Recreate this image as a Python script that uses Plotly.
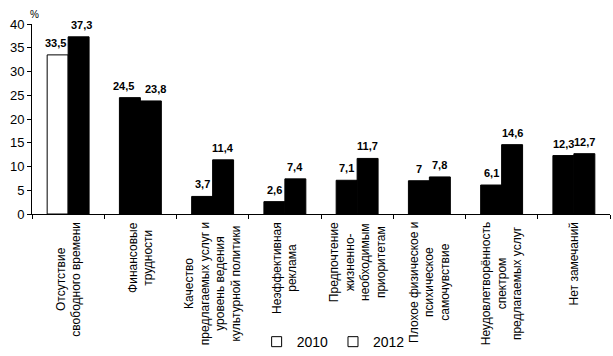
import plotly.graph_objects as go

categories = [
    "Отсутствие<br>свободного времени",
    "Финансовые<br>трудности",
    "Качество<br>предлагаемых услуг и<br>уровень ведения<br>культурной политики",
    "Неэффективная<br>реклама",
    "Предпочтение<br>жизненно-<br>необходимым<br>приоритетам",
    "Плохое физическое и<br>психическое<br>самочувствие",
    "Неудовлетворённость<br>спектром<br>предлагаемых услуг",
    "Нет замечаний",
]
values_2010 = [33.5, 24.5, 3.7, 2.6, 7.1, 7.0, 6.1, 12.3]
values_2012 = [37.3, 23.8, 11.4, 7.4, 11.7, 7.8, 14.6, 12.7]
series_names = ["2010", "2012"]
y_ticks = [0, 5, 10, 15, 20, 25, 30, 35, 40]

FONT = "Liberation Sans, Arial, sans-serif"

W, H = 613, 356
ML, MR, MT, MB = 32, 3, 24, 142
BARGAP = 0.42
# small horizontal label nudges (px) to keep neighbouring value labels apart
NUDGE_2010 = [-2, -6, 0, 0, 0, 0, 0, 0]
NUDGE_2012 = [3, 5, 0, 0, 0, 0, 0, 0]


def fmt(v):
    return ("%g" % v).replace(".", ",")


colors_2010 = ["white"] + ["black"] * (len(values_2010) - 1)

fig = go.Figure()
fig.add_trace(go.Bar(
    x=categories, y=values_2010, name=series_names[0],
    marker=dict(color=colors_2010, line=dict(color="black", width=1)),
    showlegend=False,
))
fig.add_trace(go.Bar(
    x=categories, y=values_2012, name=series_names[1],
    marker=dict(color="black", line=dict(color="black", width=1)),
    showlegend=False,
))
# legend entries (both shown as white boxes in the original)
for name in series_names:
    fig.add_trace(go.Scatter(
        x=[None], y=[None], mode="markers", name=name,
        marker=dict(symbol="square", size=10, color="white",
                    line=dict(color="black", width=1)),
    ))

# value labels above each bar (half a bar width to either side of the category centre)
cat_px = (W - ML - MR) / len(categories)
half_bar = cat_px * (1 - BARGAP) / 4
for vals, sign, nudges in ((values_2010, -1, NUDGE_2010), (values_2012, 1, NUDGE_2012)):
    for c, v, n in zip(categories, vals, nudges):
        fig.add_annotation(
            x=c, xref="x", y=v, yref="y", xshift=sign * half_bar + n, yshift=4,
            text="<b>%s</b>" % fmt(v), showarrow=False,
            xanchor="center", yanchor="bottom",
            font=dict(family=FONT, size=11, color="black"),
        )

# category labels, rotated, centred lines
for c in categories:
    fig.add_annotation(
        x=c, xref="x", y=0, yref="paper", yshift=-6,
        text=c, textangle=-90, showarrow=False,
        xanchor="center", yanchor="top", align="center",
        font=dict(family=FONT, size=12, color="black"),
    )

fig.add_annotation(
    x=0, xref="paper", y=1, yref="paper", yshift=10, xshift=-4,
    text="%", showarrow=False, xanchor="left", yanchor="middle",
    font=dict(family=FONT, size=10, color="black"),
)

fig.update_layout(
    width=W, height=H,
    margin=dict(l=ML, r=MR, t=MT, b=MB, autoexpand=False),
    paper_bgcolor="white", plot_bgcolor="white",
    barmode="group", bargap=BARGAP, bargroupgap=0,
    font=dict(family=FONT, size=13, color="black"),
    legend=dict(orientation="h", x=0.521, xanchor="center",
                y=-0.674, yanchor="middle",
                font=dict(family=FONT, size=14, color="black"),
                itemwidth=30, tracegroupgap=0),
    xaxis=dict(showticklabels=False, ticks="outside", tickson="boundaries",
               ticklen=4, tickcolor="black", showline=True,
               linecolor="black", linewidth=1, showgrid=False),
    yaxis=dict(range=[0, 40], tickvals=y_ticks, ticks="outside", ticklen=4,
               tickcolor="black", showline=True, linecolor="black",
               linewidth=1, showgrid=False, zeroline=False,
               tickfont=dict(family=FONT, size=13, color="black")),
)

fig.write_html(
    "out.html",
    config={"displayModeBar": False},
    post_script="document.body.style.margin='0';document.body.style.overflow='hidden';",
)
